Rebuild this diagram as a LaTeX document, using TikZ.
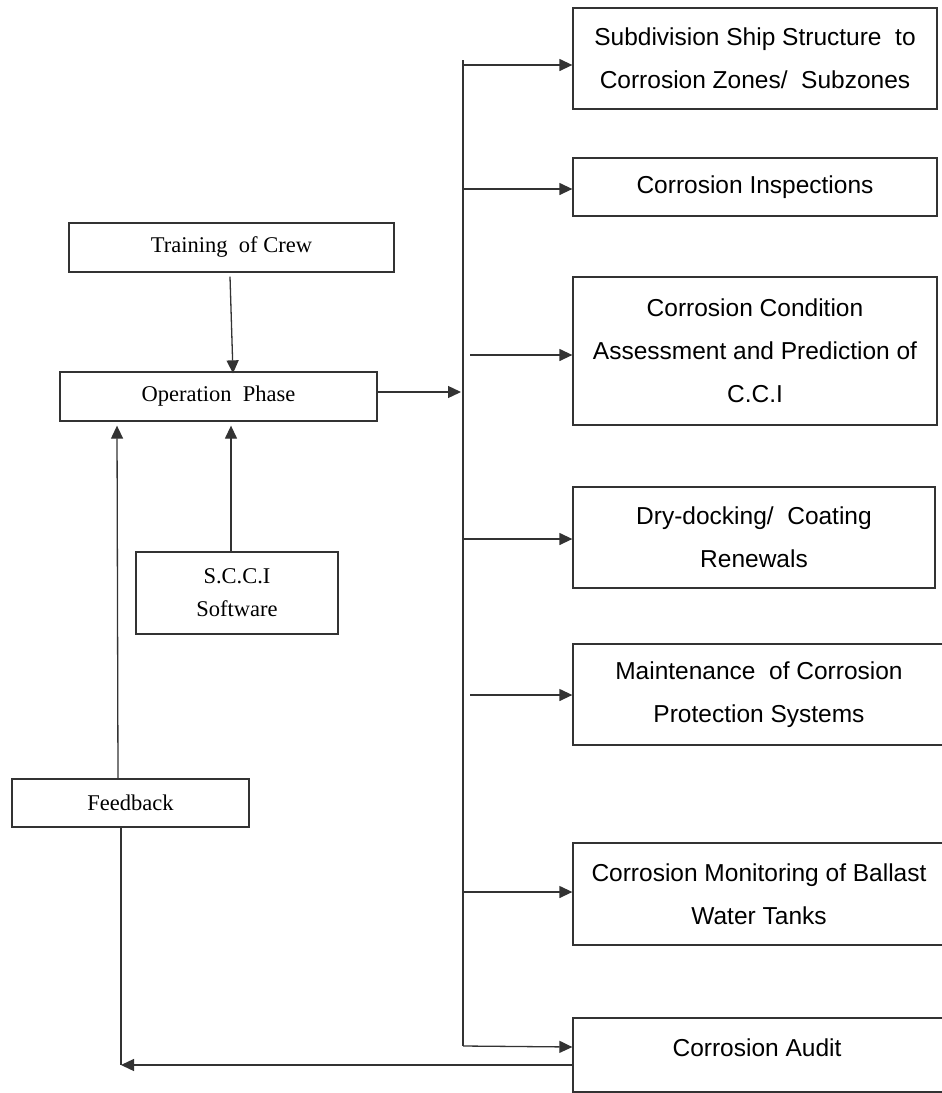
\documentclass[tikz,border=0pt]{standalone}
\usepackage{fontspec}
\setmainfont{Liberation Serif}
\newfontfamily\arialfont{Liberation Sans}
\usetikzlibrary{arrows.meta}
\begin{document}
\begin{tikzpicture}[x=1pt,y=-1pt,
  line width=1.3pt, draw=black!80,
  box/.style={draw=black!80, rectangle, inner sep=0pt, align=center},
  serifbox/.style={box, font=\fontsize{22.5}{33}\selectfont},
  sansbox/.style={box, font=\arialfont\fontsize{24.5}{43}\selectfont},
  arr/.style={-{Triangle[length=13pt,width=12pt]}}]
\useasboundingbox (0,0) rectangle (942,1093);

% left column
\node[serifbox, minimum width=325, minimum height=49] (train) at (231.5,247.5) {Training\ \ of Crew};
\node[serifbox, minimum width=317, minimum height=49] (op) at (218.5,396.5) {Operation\ \ Phase};
\node[serifbox, minimum width=202, minimum height=82] (scci) at (237,593) {S.C.C.I\\Software};
\node[serifbox, minimum width=237, minimum height=48] (fb) at (130.5,803) {Feedback};

% right column
\node[sansbox, minimum width=364, minimum height=101] (sub) at (755,58.5) {Subdivision Ship Structure\ \ to\\Corrosion Zones/\ \ Subzones};
\node[sansbox, minimum width=364, minimum height=58] (insp) at (755,187) {Corrosion Inspections};
\node[sansbox, minimum width=364, minimum height=148] (cond) at (755,351) {Corrosion Condition\\Assessment and Prediction of\\C.C.I};
\node[sansbox, minimum width=362, minimum height=101] (dry) at (754,537.5) {Dry-docking/\ \ Coating\\Renewals};
\node[sansbox, minimum width=372, minimum height=101] (maint) at (759,694.5) {Maintenance\ \ of Corrosion\\Protection Systems};
\node[sansbox, minimum width=372, minimum height=102] (mon) at (759,894) {Corrosion Monitoring of Ballast\\Water Tanks};
\node[box, minimum width=372, minimum height=74] (audit) at (759,1055) {};
\node[font=\arialfont\fontsize{24.5}{28}\selectfont] (audittext) at (757,1048) {Corrosion Audit};

% distribution trunk
\coordinate (trunktop) at (463,60);
\coordinate (trunkbot) at (463,1046);
\coordinate (fbcorner) at (121,1065);
\draw (trunktop) -- (trunkbot);

% connectors of the left column
\draw[arr] ([yshift=-4pt]train.south -| 230,0) -- ([yshift=-2pt]op.north -| 233,0);
\draw[arr] (scci.north -| 231,0) -- ([yshift=-4pt]op.south -| 231,0);
\draw[arr] (fb.north -| 118,0) -- ([yshift=-4pt]op.south -| 117,0);
\draw[arr] ([yshift=4.5pt]op.east) -- ([yshift=4.5pt]op.east -| 461,0);
\draw (fb.south -| 121,0) -- (fbcorner);
\draw[arr] (audit.west |- fbcorner) -- (fbcorner);

% branches to the right column
\draw[arr] (trunktop |- 0,65) -- (sub.west |- 0,65);
\draw[arr] (trunktop |- 0,189) -- (insp.west |- 0,189);
\draw[arr] (470,355) -- (cond.west |- 0,355);
\draw[arr] (trunktop |- 0,539) -- (dry.west |- 0,539);
\draw[arr] (470,695) -- (maint.west |- 0,695);
\draw[arr] (trunktop |- 0,892) -- (mon.west |- 0,892);
\draw[arr] (trunkbot) -- (audit.west |- 0,1047);
\end{tikzpicture}
\end{document}
